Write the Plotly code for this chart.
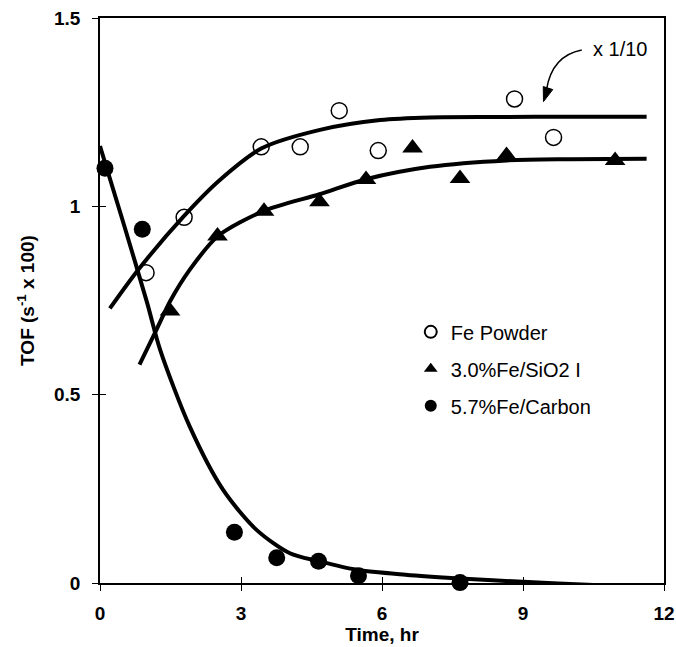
import plotly.graph_objects as go

# ---- data ----
fe_x = [0.98, 1.79, 3.43, 4.26, 5.09, 5.92, 8.82, 9.65]
fe_y = [0.824, 0.971, 1.158, 1.158, 1.254, 1.148, 1.285, 1.183]

si_x = [1.49, 2.50, 3.49, 4.67, 5.66, 6.65, 7.66, 8.65, 10.96]
si_y = [0.722, 0.921, 0.987, 1.012, 1.071, 1.155, 1.074, 1.135, 1.122]

c_x = [0.106, 0.9, 2.86, 3.76, 4.65, 5.50, 7.66]
c_y = [1.101, 0.939, 0.135, 0.067, 0.058, 0.019, 0.001]

# fitted curves
fe_fit_x = [0.21, 0.81, 1.77, 2.55, 3.44, 4.68, 5.96, 7.02, 8.5, 10.0, 11.63]
fe_fit_y = [0.729, 0.831, 0.972, 1.07, 1.154, 1.203, 1.229, 1.236, 1.237, 1.238, 1.238]

si_fit_x = [0.84, 1.2, 1.5, 1.9, 2.5, 3.49, 4.67, 5.66, 7.02, 8.65, 10.0, 11.63]
si_fit_y = [0.58, 0.672, 0.75, 0.83, 0.92, 0.988, 1.032, 1.072, 1.105, 1.122, 1.125, 1.126]

c_fit_x = [0.0, 0.5, 1.0, 1.28, 1.91, 2.62, 3.33, 4.04, 4.65, 5.46, 6.5, 7.66, 9.0, 10.5, 11.84]
c_fit_y = [1.16, 0.955, 0.745, 0.619, 0.415, 0.247, 0.141, 0.079, 0.058, 0.035, 0.022, 0.012, 0.003, -0.005, -0.011]

x_ticks = [0, 3, 6, 9, 12]
x_ticktext = ["0", "3", "6", "9", "12"]
y_ticks = [0, 0.5, 1, 1.5]
y_ticktext = ["0", "0.5", "1", "1.5"]

names = ["Fe Powder", "3.0%Fe/SiO2 I", "5.7%Fe/Carbon"]

FONT = "Arial, Liberation Sans, sans-serif"

fig = go.Figure()

line_style = dict(color="black", width=4, shape="spline", smoothing=0.8)
for fx, fy in [(fe_fit_x, fe_fit_y), (si_fit_x, si_fit_y), (c_fit_x, c_fit_y)]:
    fig.add_trace(go.Scatter(x=fx, y=fy, mode="lines", line=line_style,
                             showlegend=False, hoverinfo="skip"))

fig.add_trace(go.Scatter(x=fe_x, y=fe_y, mode="markers", name=names[0], legendgroup="a",
                         marker=dict(symbol="circle-open", size=16, color="black",
                                     line=dict(width=1.5, color="black")),
                         cliponaxis=False))
fig.add_trace(go.Scatter(x=si_x, y=si_y, mode="markers", name=names[1], legendgroup="b",
                         marker=dict(symbol="triangle-up", size=18, color="black"),
                         cliponaxis=False))
fig.add_trace(go.Scatter(x=c_x, y=c_y, mode="markers", name=names[2], legendgroup="c",
                         marker=dict(symbol="circle", size=17, color="black"),
                         cliponaxis=False))

# dummy trace for the overlay axes that carry the inner half of the cross ticks
fig.add_trace(go.Scatter(x=[None], y=[None], xaxis="x2", yaxis="y2",
                         showlegend=False, hoverinfo="skip"))

# "x 1/10" note with a curved arrow
fig.add_annotation(x=10.45, y=1.418, xref="x", yref="y", text="x 1/10",
                   showarrow=False, xanchor="left", yanchor="middle",
                   font=dict(family=FONT, size=20, color="black"))
fig.add_shape(type="path", xref="x", yref="y",
              path="M 10.25,1.415 Q 9.62,1.40 9.50,1.31",
              line=dict(color="black", width=1.5))
fig.add_shape(type="path", xref="x", yref="y",
              path="M 9.436,1.278 L 9.633,1.310 L 9.431,1.318 Z",
              fillcolor="black", line=dict(color="black", width=1))

bold_tick = dict(family=FONT, size=19, color="black", weight="bold")
bold_title = dict(family=FONT, size=19, color="black", weight="bold")

fig.update_layout(
    width=676, height=647,
    margin=dict(l=100, r=12, t=18, b=64),
    paper_bgcolor="white", plot_bgcolor="white",
    font=dict(family=FONT, color="black"),
    xaxis=dict(range=[0, 12], tickvals=x_ticks, ticktext=x_ticktext,
               ticks="outside", ticklen=6, tickwidth=1, tickcolor="black",
               showline=True, linecolor="black", linewidth=1.5, mirror=True,
               showgrid=False, zeroline=False, tickfont=bold_tick,
               ticklabelstandoff=6, automargin=False,
               title=dict(text="Time, hr", font=bold_title, standoff=2)),
    yaxis=dict(range=[0, 1.5], tickvals=y_ticks, ticktext=y_ticktext,
               ticks="outside", ticklen=6, tickwidth=1, tickcolor="black",
               showline=True, linecolor="black", linewidth=1.5, mirror=True,
               showgrid=False, zeroline=False, tickfont=bold_tick,
               ticklabelstandoff=8, automargin=False,
               title=dict(text="TOF (s<sup>-1</sup> x 100)", font=bold_title, standoff=14)),
    xaxis2=dict(range=[0, 12], overlaying="x", anchor="y2", tickvals=x_ticks,
                ticks="inside", ticklen=6, tickwidth=1, tickcolor="black",
                showticklabels=False, showline=False, showgrid=False, zeroline=False),
    yaxis2=dict(range=[0, 1.5], overlaying="y", anchor="x2", tickvals=y_ticks,
                ticks="inside", ticklen=6, tickwidth=1, tickcolor="black",
                showticklabels=False, showline=False, showgrid=False, zeroline=False),
    legend=dict(x=0.551, y=0.479, xanchor="left", yanchor="top",
                bgcolor="rgba(0,0,0,0)", borderwidth=0,
                font=dict(family=FONT, size=20, color="black"),
                tracegroupgap=8, itemsizing="constant"),
    showlegend=True,
)

fig.write_html("out.html")
